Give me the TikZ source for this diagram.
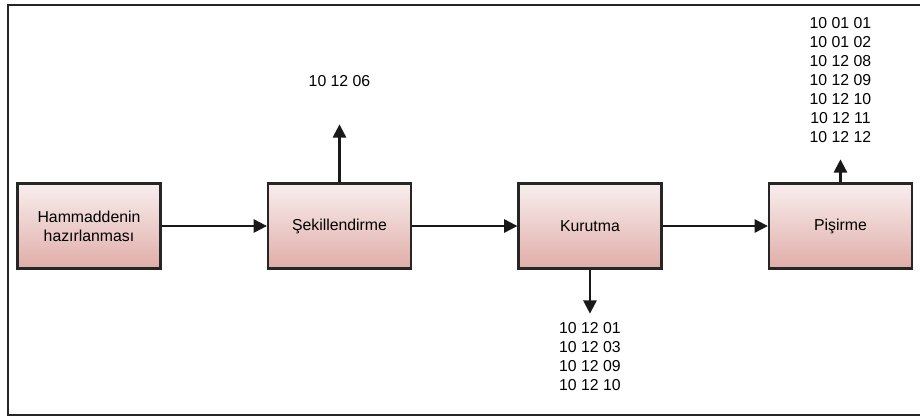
\documentclass[tikz,border=0pt]{standalone}
\usepackage{fontspec}
\setmainfont{Liberation Sans}
\usepackage{tikz}
\usepackage{xcolor}
\usetikzlibrary{arrows.meta}
\usetikzlibrary{positioning}
\definecolor{colorTop}{HTML}{F8EEEE}
\definecolor{colorMid}{HTML}{ECCAC7}
\definecolor{colorBot}{HTML}{E0ADA8}
\def\colorTop{colorTop}
\def\colorMid{colorMid}
\def\colorBot{colorBot}

\begin{document}
\begin{tikzpicture}[x=0.02cm, y=-0.02cm,
	islem/.style={draw=black!85, line width=1.3pt, top color=\colorTop, middle color=\colorMid, bottom color=\colorBot,
		minimum width=2.86cm, minimum height=1.7cm, align=center, font=\fontsize{9pt}{10.8pt}\selectfont},
	kod/.style={inner sep=0pt, align=center, font=\fontsize{9pt}{10.8pt}\selectfont},
	ok/.style={-{Triangle[length=7.5pt,width=7.5pt]}, line width=1.2pt, black!90}]

	\useasboundingbox (0,0) rectangle (920,417);

	% cerceve
	\draw[line width=1.1pt, black!85] (920,5) -- (8,5) -- (8,415) -- (920,415);

	% kutular
	\node[islem] (hammadde) at (89,226) {Hammaddenin\\hazırlanması};
	\node[islem, right=2.105cm of hammadde] (sekil) {Şekillendirme};
	\node[islem, right=2.105cm of sekil] (kurutma) {Kurutma};
	\node[islem, right=2.105cm of kurutma] (pisirme) {Pişirme};

	\draw[ok] (hammadde) -- (sekil);
	\draw[ok] (sekil) -- (kurutma);
	\draw[ok] (kurutma) -- (pisirme);

	% kodlar
	\coordinate (sekilUc) at ([yshift=1.16cm]sekil.north);
	\node[kod, above=0.75cm of sekilUc] (sekilKod) {10 12 06};
	\draw[ok] (sekil.north) -- (sekilUc);

	\coordinate (kurutmaUc) at ([yshift=-0.88cm]kurutma.south);
	\node[kod, below=0.17cm of kurutmaUc] (kurutmaKod) {10 12 01\\10 12 03\\10 12 09\\10 12 10};
	\draw[ok] (kurutma.south) -- (kurutmaUc);

	\coordinate (pisirmeUc) at ([yshift=0.46cm]pisirme.north);
	\node[kod, above=0.33cm of pisirmeUc] (pisirmeKod) {10 01 01\\10 01 02\\10 12 08\\10 12 09\\10 12 10\\10 12 11\\10 12 12};
	\draw[ok] (pisirme.north) -- (pisirmeUc);

\end{tikzpicture}
\end{document}
